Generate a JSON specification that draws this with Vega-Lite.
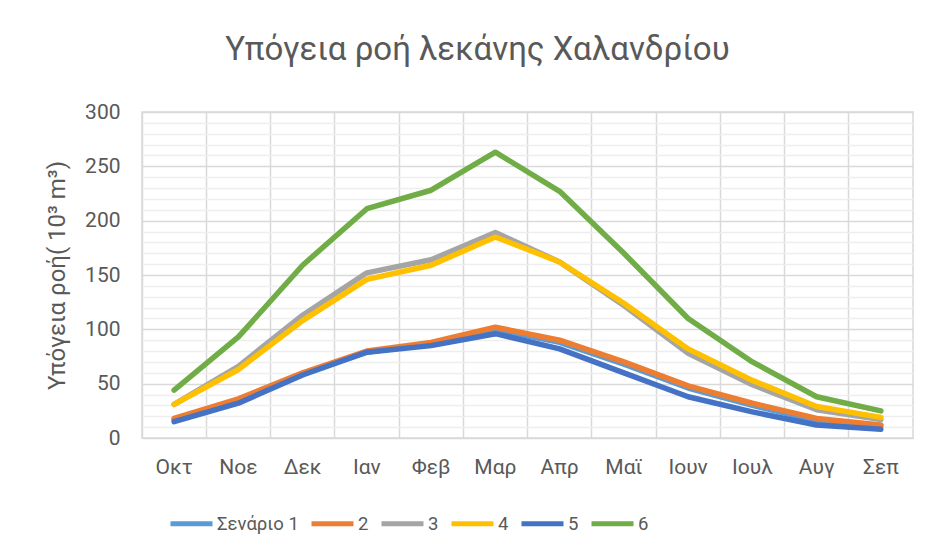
{
  "$schema": "https://vega.github.io/schema/vega-lite/v6.json",
  "autosize": {"type": "none"},
  "width": 771,
  "height": 326,
  "padding": {"left": 142, "top": 112, "right": 16, "bottom": 113},
  "background": "white",
  "title": {
    "text": "Υπόγεια ροή λεκάνης Χαλανδρίου",
    "font": "Roboto",
    "fontSize": 33,
    "fontWeight": "normal",
    "color": "#595959",
    "anchor": "middle",
    "dx": -50,
    "offset": 34
  },
  "config": {
    "view": {"stroke": "#d9d9d9", "strokeWidth": 1.5},
    "axis": {"labelFont": "Roboto", "titleFont": "Roboto", "labelColor": "#595959", "titleColor": "#595959", "labelOverlap": false},
    "axisY": {"titleFontSize": 24, "titleFontWeight": "normal", "titlePadding": 15, "labelFontSize": 21, "labelPadding": 22, "labelOverlap": false},
    "axisX": {"labelFontSize": 21, "labelPadding": 18}
  },
  "data": {
    "values": [
      {"month": "Οκτ", "scenario": "Σενάριο 1", "value": 17},
      {"month": "Νοε", "scenario": "Σενάριο 1", "value": 34},
      {"month": "Δεκ", "scenario": "Σενάριο 1", "value": 59},
      {"month": "Ιαν", "scenario": "Σενάριο 1", "value": 79},
      {"month": "Φεβ", "scenario": "Σενάριο 1", "value": 87},
      {"month": "Μαρ", "scenario": "Σενάριο 1", "value": 100},
      {"month": "Απρ", "scenario": "Σενάριο 1", "value": 88},
      {"month": "Μαϊ", "scenario": "Σενάριο 1", "value": 68},
      {"month": "Ιουν", "scenario": "Σενάριο 1", "value": 46},
      {"month": "Ιουλ", "scenario": "Σενάριο 1", "value": 30},
      {"month": "Αυγ", "scenario": "Σενάριο 1", "value": 16},
      {"month": "Σεπ", "scenario": "Σενάριο 1", "value": 11},
      {"month": "Οκτ", "scenario": "2", "value": 18},
      {"month": "Νοε", "scenario": "2", "value": 36},
      {"month": "Δεκ", "scenario": "2", "value": 60},
      {"month": "Ιαν", "scenario": "2", "value": 80},
      {"month": "Φεβ", "scenario": "2", "value": 88},
      {"month": "Μαρ", "scenario": "2", "value": 102},
      {"month": "Απρ", "scenario": "2", "value": 90},
      {"month": "Μαϊ", "scenario": "2", "value": 70},
      {"month": "Ιουν", "scenario": "2", "value": 48},
      {"month": "Ιουλ", "scenario": "2", "value": 32},
      {"month": "Αυγ", "scenario": "2", "value": 18},
      {"month": "Σεπ", "scenario": "2", "value": 12},
      {"month": "Οκτ", "scenario": "3", "value": 31},
      {"month": "Νοε", "scenario": "3", "value": 66},
      {"month": "Δεκ", "scenario": "3", "value": 113},
      {"month": "Ιαν", "scenario": "3", "value": 152},
      {"month": "Φεβ", "scenario": "3", "value": 164},
      {"month": "Μαρ", "scenario": "3", "value": 189},
      {"month": "Απρ", "scenario": "3", "value": 162},
      {"month": "Μαϊ", "scenario": "3", "value": 122},
      {"month": "Ιουν", "scenario": "3", "value": 78},
      {"month": "Ιουλ", "scenario": "3", "value": 49},
      {"month": "Αυγ", "scenario": "3", "value": 26},
      {"month": "Σεπ", "scenario": "3", "value": 17},
      {"month": "Οκτ", "scenario": "4", "value": 31},
      {"month": "Νοε", "scenario": "4", "value": 63},
      {"month": "Δεκ", "scenario": "4", "value": 108},
      {"month": "Ιαν", "scenario": "4", "value": 146},
      {"month": "Φεβ", "scenario": "4", "value": 159},
      {"month": "Μαρ", "scenario": "4", "value": 185},
      {"month": "Απρ", "scenario": "4", "value": 162},
      {"month": "Μαϊ", "scenario": "4", "value": 124},
      {"month": "Ιουν", "scenario": "4", "value": 82},
      {"month": "Ιουλ", "scenario": "4", "value": 53},
      {"month": "Αυγ", "scenario": "4", "value": 29},
      {"month": "Σεπ", "scenario": "4", "value": 19},
      {"month": "Οκτ", "scenario": "5", "value": 15},
      {"month": "Νοε", "scenario": "5", "value": 32},
      {"month": "Δεκ", "scenario": "5", "value": 58},
      {"month": "Ιαν", "scenario": "5", "value": 79},
      {"month": "Φεβ", "scenario": "5", "value": 85},
      {"month": "Μαρ", "scenario": "5", "value": 96},
      {"month": "Απρ", "scenario": "5", "value": 82},
      {"month": "Μαϊ", "scenario": "5", "value": 60},
      {"month": "Ιουν", "scenario": "5", "value": 38},
      {"month": "Ιουλ", "scenario": "5", "value": 24},
      {"month": "Αυγ", "scenario": "5", "value": 12},
      {"month": "Σεπ", "scenario": "5", "value": 8},
      {"month": "Οκτ", "scenario": "6", "value": 44},
      {"month": "Νοε", "scenario": "6", "value": 93},
      {"month": "Δεκ", "scenario": "6", "value": 159},
      {"month": "Ιαν", "scenario": "6", "value": 211},
      {"month": "Φεβ", "scenario": "6", "value": 228},
      {"month": "Μαρ", "scenario": "6", "value": 263},
      {"month": "Απρ", "scenario": "6", "value": 227},
      {"month": "Μαϊ", "scenario": "6", "value": 170},
      {"month": "Ιουν", "scenario": "6", "value": 110},
      {"month": "Ιουλ", "scenario": "6", "value": 70},
      {"month": "Αυγ", "scenario": "6", "value": 38},
      {"month": "Σεπ", "scenario": "6", "value": 25}
    ]
  },
  "layer": [
    {
      "mark": {"type": "line", "strokeOpacity": 0, "strokeWidth": 1},
      "encoding": {
        "x": {
          "field": "month", "type": "nominal", "sort": null, "bandPosition": 0.5,
          "scale": {"type": "band", "paddingInner": 0, "paddingOuter": 0},
          "axis": {"orient": "bottom", "title": null, "labels": false, "ticks": false, "domain": false, "grid": true, "gridColor": "#d9d9d9", "gridWidth": 1.5, "bandPosition": 0}
        },
        "y": {
          "field": "value", "type": "quantitative",
          "scale": {"domain": [0, 300], "nice": false},
          "axis": {
            "title": "Υπόγεια ροή( 10³ m³)",
            "values": [0,10,20,30,40,50,60,70,80,90,100,110,120,130,140,150,160,170,180,190,200,210,220,230,240,250,260,270,280,290,300],
            "labelExpr": "datum.value % 50 === 0 ? datum.label : ''",
            "ticks": false, "domain": false,
            "grid": true,
            "gridColor": {"condition": {"test": "datum.value % 50 === 0", "value": "#d9d9d9"}, "value": "#eeeeee"},
            "gridWidth": 1.5
          }
        }
      }
    },
    {
      "mark": {"type": "line", "strokeWidth": 5.5, "strokeCap": "round", "strokeJoin": "round"},
      "encoding": {
        "x": {
          "field": "month", "type": "nominal", "sort": null, "bandPosition": 0.5,
          "scale": {"type": "band", "paddingInner": 0, "paddingOuter": 0},
          "axis": {"orient": "bottom", "title": null, "grid": false, "ticks": false, "domain": false, "labelAngle": 0}
        },
        "y": {
          "field": "value", "type": "quantitative",
          "scale": {"domain": [0, 300], "nice": false},
          "axis": {
            "title": "Υπόγεια ροή( 10³ m³)",
            "values": [0,10,20,30,40,50,60,70,80,90,100,110,120,130,140,150,160,170,180,190,200,210,220,230,240,250,260,270,280,290,300],
            "labelExpr": "datum.value % 50 === 0 ? datum.label : ''",
            "ticks": false, "domain": false,
            "grid": true,
            "gridColor": {"condition": {"test": "datum.value % 50 === 0", "value": "#d9d9d9"}, "value": "#eeeeee"},
            "gridWidth": 1.5
          }
        },
        "color": {
          "field": "scenario", "type": "nominal",
          "scale": {"domain": ["Σενάριο 1", "2", "3", "4", "5", "6"], "range": ["#5b9bd5", "#ed7d31", "#a5a5a5", "#ffc000", "#4472c4", "#70ad47"]},
          "legend": {
            "title": null, "orient": "none", "direction": "horizontal",
            "legendX": 26, "legendY": 388,
            "symbolType": "stroke", "symbolSize": 1764, "symbolStrokeWidth": 5,
            "labelFont": "Roboto", "labelFontSize": 18.5, "labelColor": "#595959",
            "labelOffset": 2, "columnPadding": 2
          }
        }
      }
    }
  ],
  "resolve": {"axis": {"x": "independent"}}
}
